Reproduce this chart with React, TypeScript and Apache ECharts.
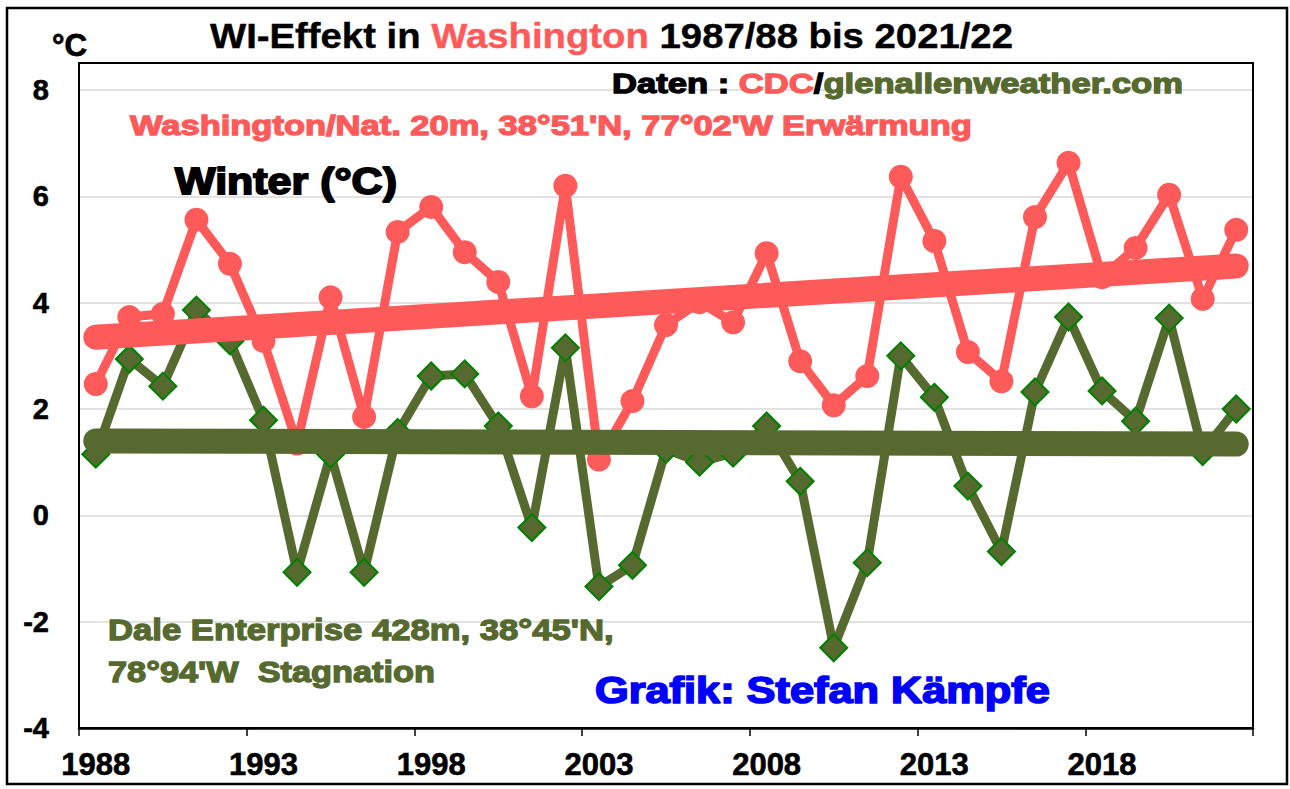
import React, { useEffect, useRef } from "react";
import * as echarts from "echarts";

const categories = [
  "1988", "1989", "1990", "1991", "1992", "1993", "1994", "1995", "1996", "1997",
  "1998", "1999", "2000", "2001", "2002", "2003", "2004", "2005", "2006", "2007",
  "2008", "2009", "2010", "2011", "2012", "2013", "2014", "2015", "2016", "2017",
  "2018", "2019", "2020", "2021", "2022",
];

// Washington/Nat. winter mean (°C)
const washington = [
  2.47, 3.73, 3.79, 5.56, 4.73, 3.28, 1.35, 4.1, 1.85, 5.33,
  5.8, 4.95, 4.39, 2.24, 6.2, 1.05, 2.15, 3.58, 4.01, 3.63,
  4.93, 2.9, 2.07, 2.62, 6.37, 5.16, 3.07, 2.52, 5.61, 6.63,
  4.48, 5.03, 6.03, 4.07, 5.37,
];

// Dale Enterprise winter mean (°C)
const daleEnterprise = [
  1.15, 2.94, 2.43, 3.86, 3.28, 1.79, -1.07, 1.15, -1.07, 1.56,
  2.62, 2.66, 1.68, -0.23, 3.15, -1.34, -0.94, 1.24, 1.0, 1.17,
  1.68, 0.64, -2.49, -0.89, 3.0, 2.22, 0.55, -0.68, 2.32, 3.73,
  2.34, 1.77, 3.71, 1.2, 2.0,
];

// linear trend end values (first and last winter)
const washingtonTrend = [3.35, 4.69];
const daleTrend = [1.4, 1.34];

const yTicks = { min: -4, max: 8, interval: 2 };

const RED = "#FF5A5A";
const OLIVE = "#566A30";
const FAMILY = "'Arial Black', 'Liberation Sans', Arial, sans-serif";
const FAMILY_N = "'Liberation Sans', Arial, sans-serif";

function measure(text: string, font: string): number {
  const c = document.createElement("canvas");
  const ctx = c.getContext("2d");
  if (!ctx) return text.length * 10;
  ctx.font = font;
  return ctx.measureText(text).width;
}

type Seg = { text: string; color: string };

function fittedText(
  segs: Seg[],
  left: number,
  right: number,
  cy: number,
  size: number,
  family: string,
  heavy: number = 0
) {
  const font = `bold ${size}px ${family}`;
  const full = segs.map((s) => s.text).join("");
  const w = measure(full, font);
  const sx = (right - left) / w;
  const out: any[] = [];
  let acc = "";
  for (const s of segs) {
    const off = measure(acc, font) * sx;
    const style: any = {
      text: s.text,
      fill: s.color,
      fontSize: size,
      fontWeight: "bold",
      fontFamily: family,
      textAlign: "left",
      textVerticalAlign: "middle",
      verticalAlign: "middle",
    };
    if (heavy > 0) {
      style.stroke = s.color;
      style.lineWidth = heavy;
    }
    out.push({
      type: "text",
      x: left + off,
      y: cy,
      scaleX: sx,
      scaleY: 1,
      z: 100,
      style,
    });
    acc += s.text;
  }
  return out;
}

export default function App() {
  const ref = useRef<HTMLDivElement>(null);

  useEffect(() => {
    document.body.style.margin = "0";
    if (!ref.current) return;
    const chart = echarts.init(ref.current, undefined, { renderer: "svg" });

    const last = categories.length - 1;

    const graphics: any[] = [
      {
        type: "rect",
        z: 50,
        shape: { x: 7, y: 8, width: 1280, height: 776 },
        style: { fill: "none", stroke: "#000", lineWidth: 2.5 },
      },
      {
        type: "rect",
        z: 50,
        shape: { x: 79, y: 63, width: 1174, height: 665 },
        style: { fill: "none", stroke: "#000", lineWidth: 2 },
      },
      ...fittedText(
        [
          { text: "WI-Effekt in ", color: "#000" },
          { text: "Washington", color: RED },
          { text: " 1987/88 bis 2021/22", color: "#000" },
        ],
        210, 1013, 35, 36, FAMILY_N, 0.4
      ),
      ...fittedText([{ text: "°C", color: "#000" }], 52, 87, 45, 32, FAMILY_N, 0.8),
      ...fittedText(
        [
          { text: "Daten : ", color: "#000" },
          { text: "CDC", color: RED },
          { text: "/", color: "#000" },
          { text: "glenallenweather.com", color: OLIVE },
        ],
        612, 1183, 84, 28, FAMILY, 1.3
      ),
      ...fittedText(
        [{ text: "Washington/Nat. 20m, 38°51'N, 77°02'W Erwärmung", color: RED }],
        130, 972, 126, 28, FAMILY, 1.3
      ),
      ...fittedText([{ text: "Winter (°C)", color: "#000" }], 175, 397, 181, 37, FAMILY, 1.8),
      ...fittedText(
        [{ text: "Dale Enterprise 428m, 38°45'N,", color: OLIVE }],
        108, 614, 630, 30, FAMILY, 1.3
      ),
      ...fittedText(
        [{ text: "78°94'W  Stagnation", color: OLIVE }],
        108, 435, 672, 30, FAMILY, 1.3
      ),
      ...fittedText(
        [{ text: "Grafik: Stefan Kämpfe", color: "#0000FF" }],
        595, 1050, 690, 36, FAMILY, 1.6
      ),
    ];

    chart.setOption({
      animation: false,
      backgroundColor: "#fff",
      grid: { left: 79, right: 37, top: 90, bottom: 61, containLabel: false },
      xAxis: {
        type: "category",
        data: categories,
        boundaryGap: true,
        axisLine: { onZero: false, lineStyle: { color: "#000", width: 2.5 } },
        axisTick: { show: true, interval: 4, length: 8, lineStyle: { color: "#000", width: 1.5 } },
        axisLabel: {
          interval: 4,
          fontSize: 31,
          fontWeight: "bold",
          fontFamily: FAMILY_N,
          color: "#000",
          margin: 21,
          textBorderColor: "#000",
          textBorderWidth: 0.6,
        },
        splitLine: { show: false },
      },
      yAxis: {
        type: "value",
        min: yTicks.min,
        max: yTicks.max,
        interval: yTicks.interval,
        axisLine: { show: true, lineStyle: { color: "#000", width: 2 } },
        axisTick: { show: false },
        axisLabel: {
          fontSize: 29,
          fontWeight: "bold",
          fontFamily: FAMILY_N,
          color: "#000",
          margin: 30,
          textBorderColor: "#000",
          textBorderWidth: 0.6,
        },
        splitLine: { show: true, lineStyle: { color: "#d9d9d9", width: 1.5 } },
      },
      series: [
        {
          name: "Dale Enterprise",
          type: "line",
          data: daleEnterprise,
          symbol: "diamond",
          symbolSize: 27,
          showSymbol: true,
          showAllSymbol: true,
          itemStyle: { color: OLIVE, borderColor: "#008000", borderWidth: 2 },
          lineStyle: { color: OLIVE, width: 9 },
          z: 2,
        },
        {
          name: "Washington",
          type: "line",
          data: washington,
          symbol: "circle",
          symbolSize: 24,
          showSymbol: true,
          showAllSymbol: true,
          itemStyle: { color: RED },
          lineStyle: { color: RED, width: 9 },
          z: 3,
        },
        {
          name: "Trend Washington",
          type: "line",
          data: [
            [categories[0], washingtonTrend[0]],
            [categories[last], washingtonTrend[1]],
          ],
          symbol: "none",
          lineStyle: { color: RED, width: 25, cap: "round" },
          z: 4,
        },
        {
          name: "Trend Dale Enterprise",
          type: "line",
          data: [
            [categories[0], daleTrend[0]],
            [categories[last], daleTrend[1]],
          ],
          symbol: "none",
          lineStyle: { color: OLIVE, width: 25, cap: "round" },
          z: 5,
        },
      ],
      graphic: graphics,
    });

    return () => chart.dispose();
  }, []);

  return <div ref={ref} style={{ width: 1290, height: 789 }} />;
}
